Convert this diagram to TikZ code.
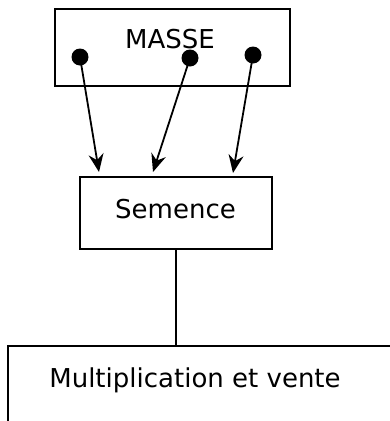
\documentclass[tikz,border=0pt]{standalone}
\usepackage{fontspec}
\setmainfont{DejaVu Sans}
\usetikzlibrary{arrows.meta}
\begin{document}
\begin{tikzpicture}[x=1pt,y=-1pt,
  box/.style={draw,line width=2pt,inner sep=0pt},
  lbl/.style={inner sep=0pt,anchor=base,font=\fontsize{26}{30}\selectfont},
  dot/.style={circle,fill=black,inner sep=0pt,minimum size=17pt},
  arr/.style={line width=1.8pt,-{Stealth[length=18pt,width=15pt,inset=6pt]}},
  conn/.style={line width=2pt}]
\useasboundingbox (0,0) rectangle (390,421);
\node[box,minimum width=235pt,minimum height=77pt] (masse) at (172.5,47.5) {};
\node[lbl] (massetxt) at (170,48) {MASSE};
\node[box,minimum width=192pt,minimum height=72pt] (semence) at (176,213) {};
\node[lbl] (semtxt) at (175.5,218) {Semence};
\node[dot] (d1) at (80,57) {};
\node[dot] (d2) at (190,58) {};
\node[dot] (d3) at (253,55) {};
\coordinate (e1) at (99,172);
\coordinate (e2) at (153,172);
\coordinate (e3) at (233,173);
\draw[arr] (d1.center) -- (e1);
\draw[arr] (d2.center) -- (e2);
\draw[arr] (d3.center) -- (e3);
\coordinate (bl) at (8,421);
\coordinate (btl) at (8,346);
\coordinate (btr) at (392,346);
\coordinate (bj) at (176,346);
\draw[conn] (bl) -- (btl) -- (btr);
\draw[conn] (semence.south) -- (bj);
\node[lbl] (multtxt) at (195,387) {Multiplication et vente};
\end{tikzpicture}
\end{document}
